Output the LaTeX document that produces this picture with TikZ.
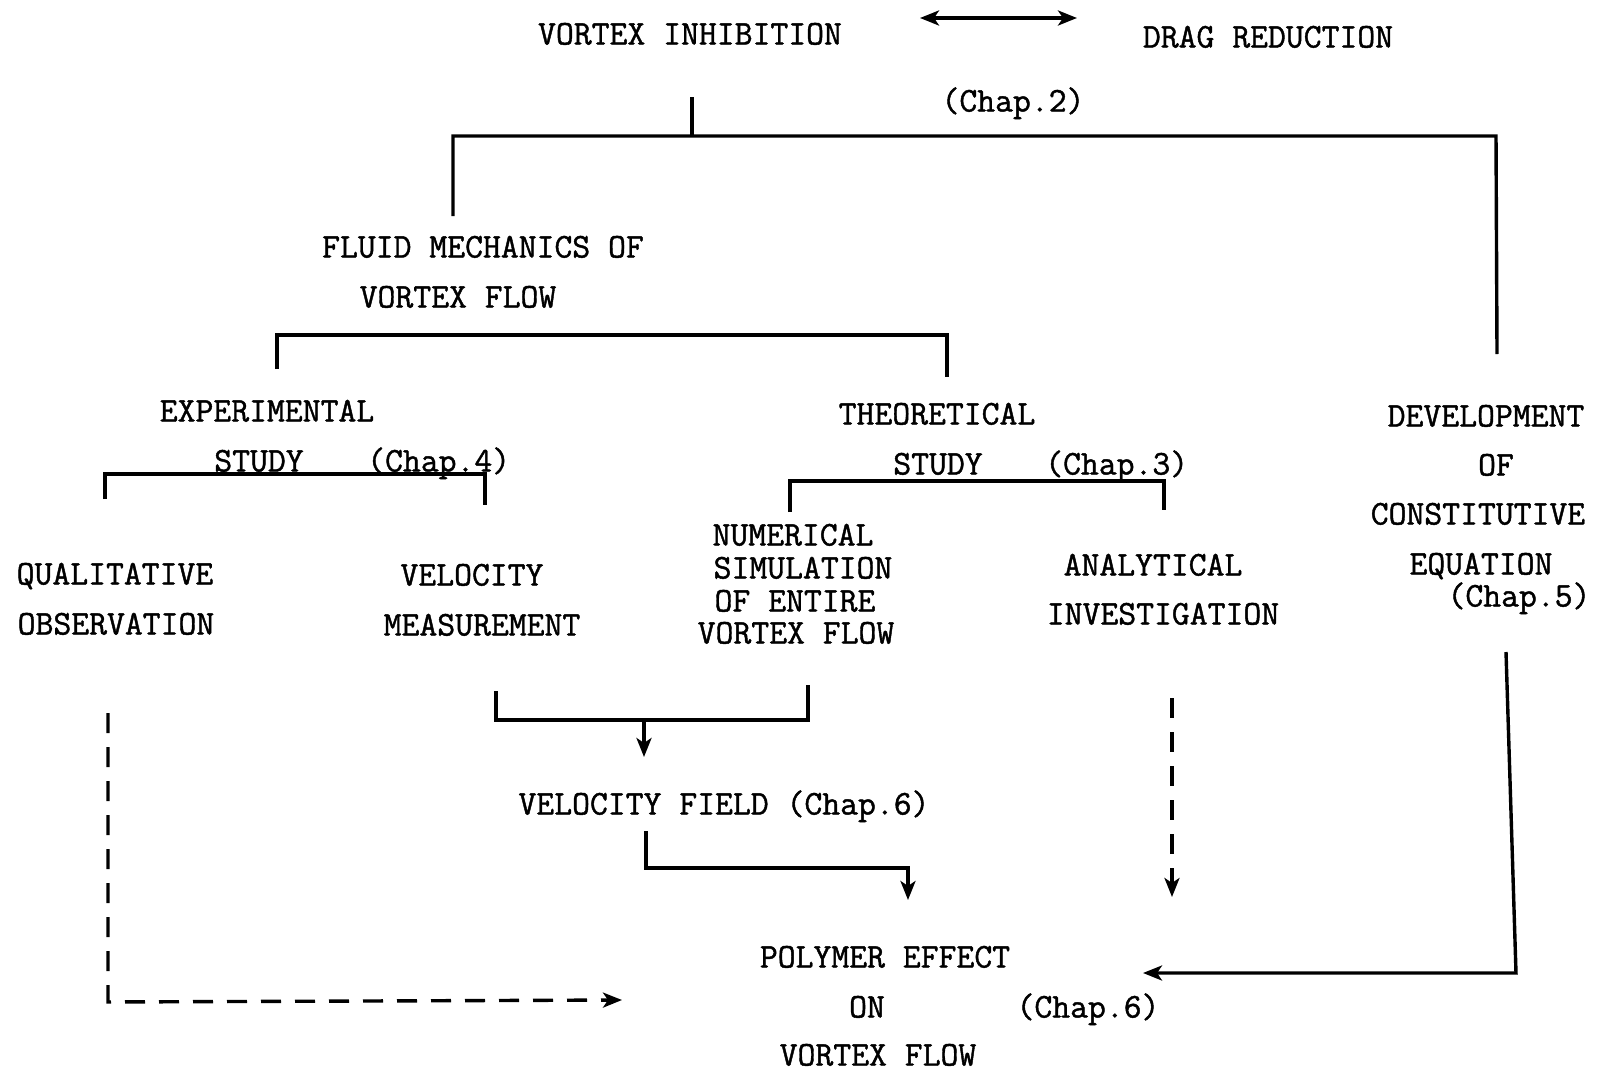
\documentclass[tikz,border=0pt]{standalone}
\usepackage{fontspec}
\newfontfamily\tw{Latin Modern Mono}[FakeBold=1.2]
\usetikzlibrary{arrows.meta}
\begin{document}
\begin{tikzpicture}[x=1pt,y=-1pt,
  lbl/.style={font=\tw\fontsize{34.7}{35}\selectfont, inner sep=0pt, text height=21pt, text depth=0pt, anchor=center},
  ln/.style={line width=3.4pt},
  dln/.style={line width=3.4pt, dash pattern=on 20pt off 14pt},
  tip/.style={-{Stealth[length=19pt,width=15pt,inset=5pt]}},
  tips/.style={{Stealth[length=19pt,width=15pt,inset=5pt]}-{Stealth[length=19pt,width=15pt,inset=5pt]}}]
\useasboundingbox[fill=white] (0,0) rectangle (1598,1071);
% texts
\node[lbl] (vi) at (690,34) {VORTEX INHIBITION};
\node[lbl] (dr) at (1268,37) {DRAG REDUCTION};
\node[lbl] (c2) at (1013,101) {(Chap.2)};
\node[lbl] (fm1) at (483,247) {FLUID MECHANICS OF};
\node[lbl] (fm2) at (458,297) {VORTEX FLOW};
\node[lbl] (ex1) at (267,411) {EXPERIMENTAL};
\node[lbl] (ex2) at (259,461) {STUDY};
\node[lbl,anchor=west] (c4) at (367,461) {(Chap.4)};
\node[lbl] (th1) at (937,414) {THEORETICAL};
\node[lbl] (th2) at (938,464) {STUDY};
\node[lbl,anchor=west] (c3) at (1045,464) {(Chap.3)};
\node[lbl] (de1) at (1486,416) {DEVELOPMENT};
\node[lbl] (de2) at (1496,465) {OF};
\node[lbl] (de3) at (1478,514) {CONSTITUTIVE};
\node[lbl] (de4) at (1481,564) {EQUATION};
\node[lbl] (c5) at (1519,596) {(Chap.5)};
\node[lbl] (qo1) at (115,574) {QUALITATIVE};
\node[lbl] (qo2) at (116,624) {OBSERVATION};
\node[lbl] (vm1) at (472,575) {VELOCITY};
\node[lbl] (vm2) at (482,625) {MEASUREMENT};
\node[lbl] (ns1) at (793,535) {NUMERICAL};
\node[lbl] (ns2) at (803,568) {SIMULATION};
\node[lbl] (ns3) at (795,601) {OF ENTIRE};
\node[lbl] (ns4) at (796,633) {VORTEX FLOW};
\node[lbl] (an1) at (1153,565) {ANALYTICAL};
\node[lbl] (an2) at (1163,614) {INVESTIGATION};
\node[lbl] (vf) at (724,804) {VELOCITY FIELD (Chap.6)};
\node[lbl] (pe1) at (885,957) {POLYMER EFFECT};
\node[lbl] (pe2) at (867,1007) {ON};
\node[lbl] (c6) at (1088,1007) {(Chap.6)};
\node[lbl] (pe3) at (878,1055) {VORTEX FLOW};
% coordinates
\coordinate (a1) at (920,18);
\coordinate (a2) at (1077,18);
\coordinate (t0) at (692,97);
\coordinate (t1) at (692,136);
\coordinate (tL) at (453,136);
\coordinate (tLd) at (453,216);
\coordinate (tR) at (1496,136);
\coordinate (tRd) at (1497,354);
\coordinate (fL) at (277,335);
\coordinate (fLd) at (277,369);
\coordinate (fR) at (947,335);
\coordinate (fRd) at (947,377);
\coordinate (eL) at (105,474);
\coordinate (eLd) at (105,499);
\coordinate (eR) at (485,474);
\coordinate (eRd) at (485,505);
\coordinate (hL) at (790,481);
\coordinate (hLd) at (790,512);
\coordinate (hR) at (1164,481);
\coordinate (hRd) at (1164,510);
\coordinate (mL) at (496,691);
\coordinate (mLb) at (496,720);
\coordinate (mR) at (808,685);
\coordinate (mRb) at (808,720);
\coordinate (mA) at (644,720);
\coordinate (mAe) at (644,757);
\coordinate (v0) at (646,831);
\coordinate (v1) at (646,868);
\coordinate (v2) at (908,868);
\coordinate (v3) at (908,900);
\coordinate (an0) at (1172,698);
\coordinate (an3) at (1172,897);
\coordinate (r0) at (1506,652);
\coordinate (r1) at (1516,973);
\coordinate (r2) at (1143,973);
\coordinate (q0) at (108,713);
\coordinate (q1) at (108,1002);
\coordinate (q2) at (622,1000);
% connectors
\draw[ln,tips] (a1) -- (a2);
\draw[ln] (t0) -- (t1);
\draw[ln] (tLd) -- (tL) -- (tR) -- (tRd);
\draw[ln] (fLd) -- (fL) -- (fR) -- (fRd);
\draw[ln] (eLd) -- (eL) -- (eR) -- (eRd);
\draw[ln] (hLd) -- (hL) -- (hR) -- (hRd);
\draw[ln] (mL) -- (mLb) -- (mRb) -- (mR);
\draw[ln,tip] (mA) -- (mAe);
\draw[ln,tip] (v0) -- (v1) -- (v2) -- (v3);
\draw[dln,tip] (an0) -- (an3);
\draw[ln,tip] (r0) -- (r1) -- (r2);
\draw[dln,tip] (q0) -- (q1) -- (q2);
\end{tikzpicture}
\end{document}
